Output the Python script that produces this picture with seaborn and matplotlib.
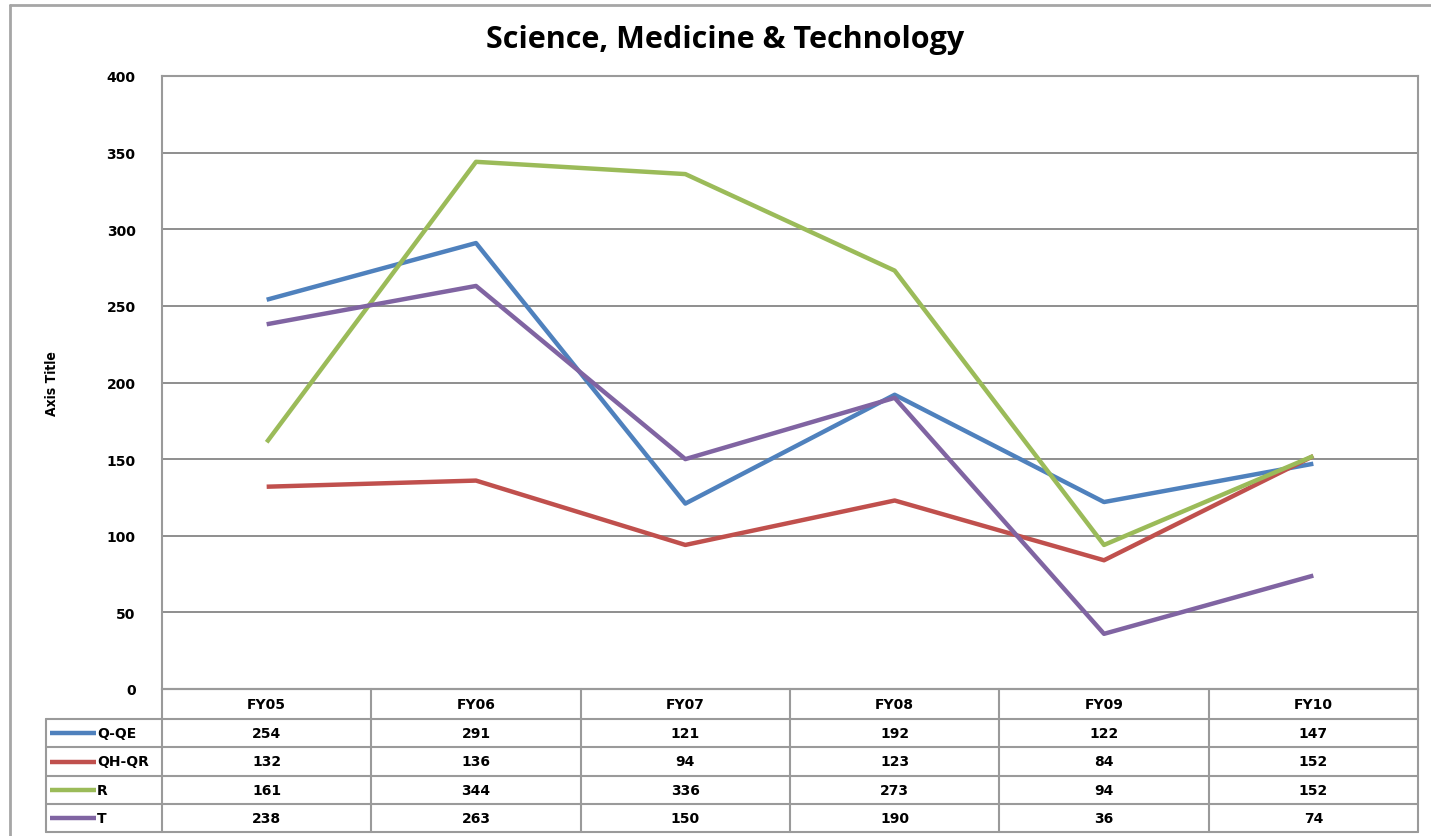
import matplotlib
matplotlib.use("Agg")
import matplotlib.pyplot as plt
from matplotlib.lines import Line2D
from matplotlib.transforms import blended_transform_factory
import seaborn as sns
import pandas as pd

categories = ["FY05", "FY06", "FY07", "FY08", "FY09", "FY10"]
series_names = ["Q-QE", "QH-QR", "R", "T"]
q_qe = [254, 291, 121, 192, 122, 147]
qh_qr = [132, 136, 94, 123, 84, 152]
r_vals = [161, 344, 336, 273, 94, 152]
t_vals = [238, 263, 150, 190, 36, 74]
y_ticks = [0, 50, 100, 150, 200, 250, 300, 350, 400]
title = "Science, Medicine & Technology"
y_title = "Axis Title"

colors = ["#4F81BD", "#C0504D", "#9BBB59", "#8064A2"]
all_vals = [q_qe, qh_qr, r_vals, t_vals]

rows = []
for name, vals in zip(series_names, all_vals):
    for i, (c, v) in enumerate(zip(categories, vals)):
        rows.append({"series": name, "cat": c, "x": i, "value": v})
df = pd.DataFrame(rows)

sns.set_style("white")
plt.rcParams["text.color"] = "black"
plt.rcParams["ytick.color"] = "black"
W, H = 1431, 837
fig = plt.figure(figsize=(W / 100, H / 100), dpi=100)

def fx(px):
    return px / W

def fy(py):
    return 1 - py / H

L, R, T, B = 162, 1418, 77, 690
ax = fig.add_axes([fx(L), fy(B), fx(R) - fx(L), fy(T) - fy(B)])

sns.lineplot(data=df, x="x", y="value", hue="series", palette=colors,
             linewidth=3.2, ax=ax, legend=False, sort=False)
for line in ax.lines:
    line.set_solid_capstyle("butt")

ax.set_xlim(-0.5, len(categories) - 0.5)
ax.set_ylim(0, 400)
ax.set_yticks(y_ticks)
ax.set_yticklabels([str(t) for t in y_ticks], fontsize=10, fontweight="bold",
                   family="DejaVu Sans", color="black")
ax.tick_params(axis="y", length=0, pad=19)
ax.set_xticks([])
ax.set_xlabel("")
ax.set_ylabel("")
ax.yaxis.grid(True, color="#868686", linewidth=1.3)
ax.set_axisbelow(True)
for sp in ax.spines.values():
    sp.set_color("#9a9a9a")
    sp.set_linewidth(1.5)

grey = "#9a9a9a"

# outer chart border (left and top visible)
fig.add_artist(Line2D([fx(10), fx(10)], [fy(6), 0], transform=fig.transFigure,
                      color="#a6a6a6", linewidth=2))
fig.add_artist(Line2D([fx(10), 1], [fy(6), fy(6)], transform=fig.transFigure,
                      color="#a6a6a6", linewidth=2))

fig.text(fx(725), fy(40), title, ha="center", va="center", fontsize=22,
         fontweight="bold", family="Open Sans")
fig.text(fx(52), fy(384), y_title, ha="center", va="center", rotation=90,
         fontsize=10, fontweight="bold", family="DejaVu Sans", fontstretch="condensed")

# data table
row_y = [690, 720, 748, 777, 805, 833]
tab_left = 46
trans = blended_transform_factory(ax.transData, fig.transFigure)
for i, yy in enumerate(row_y):
    x0 = L if i == 0 else tab_left
    fig.add_artist(Line2D([fx(x0), fx(R)], [fy(yy), fy(yy)], transform=fig.transFigure,
                          color=grey, linewidth=1.5))
fig.add_artist(Line2D([fx(tab_left), fx(tab_left)], [fy(row_y[1]), fy(row_y[-1])],
                      transform=fig.transFigure, color=grey, linewidth=1.5))
for k in range(len(categories) + 1):
    fig.add_artist(Line2D([k - 0.5, k - 0.5], [fy(row_y[0]), fy(row_y[-1])],
                          transform=trans, color=grey, linewidth=1.5))

fs = 10
for i, c in enumerate(categories):
    fig.text(i, (fy(row_y[0]) + fy(row_y[1])) / 2, c, transform=trans, ha="center",
             va="center", fontsize=fs, fontweight="bold", family="DejaVu Sans")
for r, (name, vals, col) in enumerate(zip(series_names, all_vals, colors)):
    yc = (fy(row_y[r + 1]) + fy(row_y[r + 2])) / 2
    fig.add_artist(Line2D([fx(50), fx(96)], [yc, yc], transform=fig.transFigure,
                          color=col, linewidth=3.2, solid_capstyle="butt"))
    fig.text(fx(97), yc, name, ha="left", va="center", fontsize=fs,
             fontweight="bold", family="DejaVu Sans")
    for i, v in enumerate(vals):
        fig.text(i, yc, str(v), transform=trans, ha="center", va="center",
                 fontsize=fs, fontweight="bold", family="DejaVu Sans")

fig.savefig("out.png", dpi=100, facecolor="white")
